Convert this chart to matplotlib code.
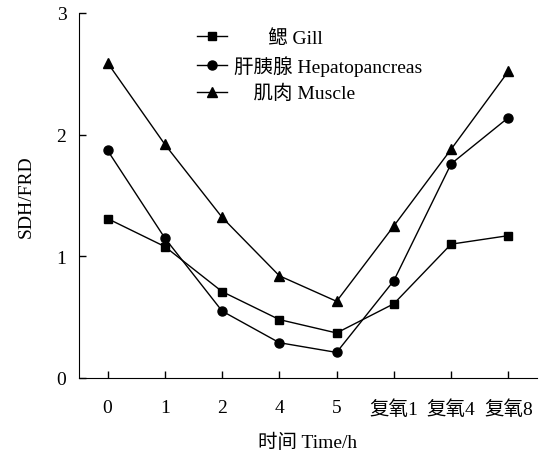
import numpy as np
import matplotlib.pyplot as plt

plt.rcParams['font.family'] = ['Liberation Serif', 'Noto Sans CJK SC']

time_labels = ['0', '1', '2', '4', '5', '复氧1', '复氧4', '复氧8']
gill = [1.31, 1.08, 0.71, 0.48, 0.37, 0.61, 1.10, 1.17]
hepato = [1.87, 1.15, 0.55, 0.29, 0.21, 0.80, 1.76, 2.14]
muscle = [2.59, 1.92, 1.32, 0.84, 0.63, 1.25, 1.88, 2.52]

fig = plt.figure(figsize=(5.5, 4.56), dpi=100)
ax = fig.add_axes([0.1436, 0.1689, 0.8327, 0.8004])

x = np.arange(len(time_labels))
ax.plot(x, gill, color='black', lw=1, marker='s', ms=6, label='       鳃 Gill')
ax.plot(x, hepato, color='black', lw=1, marker='o', ms=6.5, label='肝胰腺 Hepatopancreas')
ax.plot(x, muscle, color='black', lw=1, marker='^', ms=7, label='    肌肉 Muscle')

ax.set_xlim(-0.5, 7.5)
ax.set_ylim(0, 3)
ax.set_xticks(x)
ax.set_xticklabels(time_labels)
ax.set_yticks([0, 1, 2, 3])
ax.tick_params(direction='in', length=5, width=1, labelsize=14)
ax.tick_params(axis='x', pad=15)
ax.tick_params(axis='y', pad=9)
for s in ['top', 'right']:
    ax.spines[s].set_visible(False)

ax.set_xlabel('时间 Time/h', fontsize=14, labelpad=11)
ax.set_ylabel('SDH/FRD', fontsize=14, labelpad=16)

ax.legend(loc='upper left', bbox_to_anchor=(0.22, 1.003), frameon=False, fontsize=14,
          handlelength=1.55, handletextpad=0.35, labelspacing=0.42)

fig.savefig('out.png', dpi=100)
